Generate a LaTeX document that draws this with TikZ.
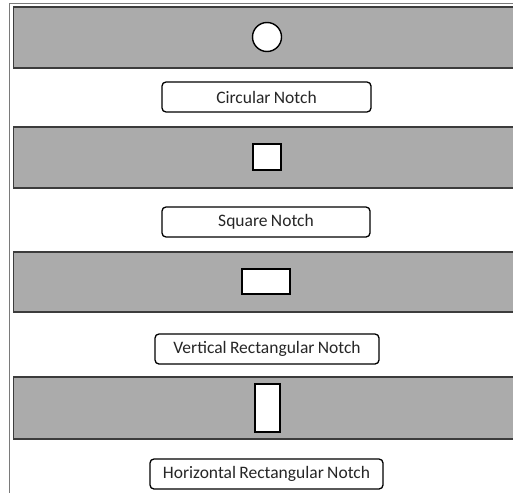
\documentclass[tikz,border=0pt]{standalone}
\usepackage{fontspec}
\setmainfont{Carlito}[WordSpace=0.85]
\definecolor{barfill}{HTML}{ABABAB}
\definecolor{barline}{HTML}{3C3C3C}
\definecolor{framecol}{HTML}{7A7A7A}
\definecolor{txtcol}{HTML}{262626}
\begin{document}
\begin{tikzpicture}[x=1pt,y=-1pt,
  bar/.style={draw=barline, line width=1.4pt, fill=barfill, inner sep=0pt, anchor=west, minimum width=530pt},
  hole/.style={draw=black, line width=1.4pt, fill=white, inner sep=0pt},
  lbl/.style={draw=black, line width=1.3pt, rounded corners=4pt, fill=white, inner sep=0pt,
              minimum height=30pt, text=txtcol, font=\fontsize{17.5}{20}\selectfont}]
\useasboundingbox (0,0) rectangle (513,492);
% outer frame
\coordinate (fb) at (9.5,500);
\coordinate (ft) at (9.5,3.5);
\coordinate (fr) at (530,3.5);
\draw[framecol, line width=0.9pt] (fb) -- (ft) -- (fr);
% bars
\node[bar, minimum height=61pt] (bar1) at (12.5,37.5) {};
\node[bar, minimum height=61pt] (bar2) at (12.5,157.5) {};
\node[bar, minimum height=60pt] (bar3) at (12.5,282) {};
\node[bar, minimum height=62pt] (bar4) at (12.5,408) {};
% notches
\node[hole, circle, minimum size=29pt] (h1) at (267,37) {};
\node[hole, rectangle, minimum width=28pt, minimum height=26pt] (h2) at (267,157) {};
\node[hole, rectangle, minimum width=48pt, minimum height=25pt] (h3) at (266,281.5) {};
\node[hole, rectangle, minimum width=25pt, minimum height=48pt] (h4) at (267.5,408) {};
% labels
\node[lbl, minimum width=209pt] (l1) at (266.5,97) {Circular Notch};
\node[lbl, minimum width=208pt] (l2) at (266,222) {Square Notch};
\node[lbl, minimum width=224pt] (l3) at (267,349) {Vertical Rectangular Notch};
\node[lbl, minimum width=233pt] (l4) at (266.5,474) {Horizontal Rectangular Notch};
\end{tikzpicture}
\end{document}
